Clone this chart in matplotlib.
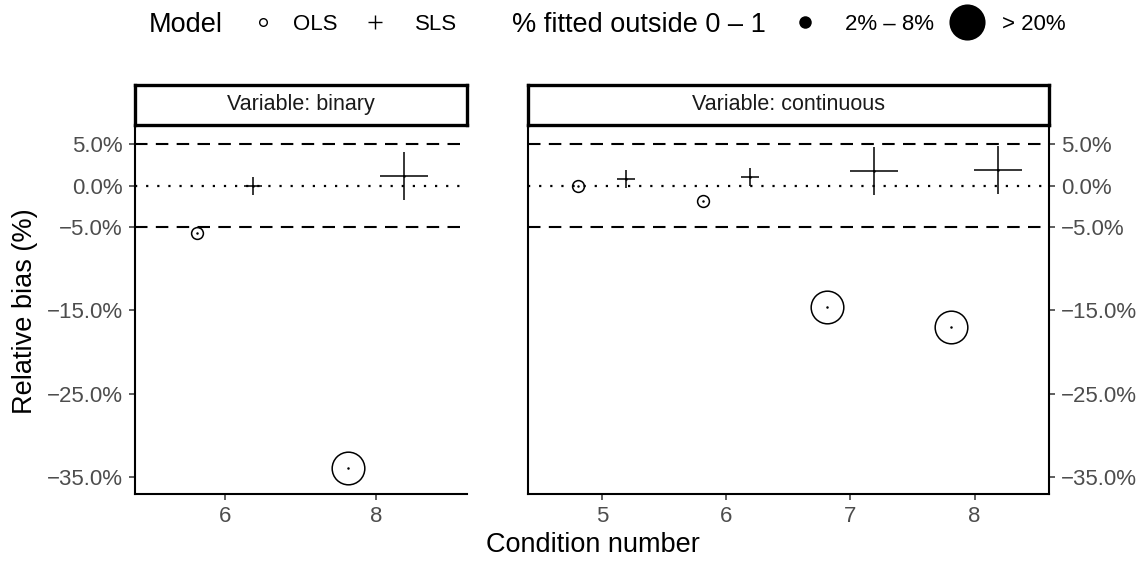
import matplotlib
matplotlib.use('Agg')
import matplotlib.pyplot as plt
from matplotlib.lines import Line2D

plt.rcParams['font.family'] = ['Liberation Sans', 'DejaVu Sans']

# ---------------- data ----------------
binary_conditions = [6, 8]
binary_ols = [-5.7, -33.9]
binary_sls = [-0.1, 1.2]
binary_outside = ['2% – 8%', '> 20%']

continuous_conditions = [5, 6, 7, 8]
continuous_ols = [0.0, -1.9, -14.6, -17.0]
continuous_sls = [0.8, 1.0, 1.8, 1.9]
continuous_outside = ['2% – 8%', '2% – 8%', '> 20%', '> 20%']

y_ticks = [5, 0, -5, -15, -25, -35]
y_tick_labels = ['5.0%', '0.0%', '\u22125.0%', '\u221215.0%', '\u221225.0%', '\u221235.0%']
binary_x_ticks = [6, 8]
continuous_x_ticks = [5, 6, 7, 8]
outside_levels = ['2% – 8%', '> 20%']

# ---------------- style ----------------
circle_ms = {'2% – 8%': 8.5, '> 20%': 23.5}
plus_ms = {'2% – 8%': 13, '> 20%': 35}
TICK_COL = '#4D4D4D'

W, H = 1142, 561
fig = plt.figure(figsize=(W / 100, H / 100), dpi=100)


def rect(x0, y0, x1, y1):
    return [x0 / W, 1 - y1 / H, (x1 - x0) / W, (y1 - y0) / H]


def panel(r, conds, ols, sls, outside, dodge, xlim, xticks, right=False):
    ax = fig.add_axes(r)
    ax.axhline(5, color='black', lw=1.5, ls=(0, (6, 4)), zorder=1)
    ax.axhline(-5, color='black', lw=1.5, ls=(0, (6, 4)), zorder=1)
    ax.axhline(0, color='black', lw=1.6, ls=(0, (1, 4)), zorder=1)
    for c, yo, ys, o in zip(conds, ols, sls, outside):
        ax.plot([c - dodge], [yo], ls='none', marker='o', ms=circle_ms[o],
                mfc='none', mec='black', mew=1.1, zorder=3)
        ax.plot([c - dodge], [yo], ls='none', marker='o', ms=1.8,
                mfc='black', mec='black', mew=0, zorder=4)
        ax.plot([c + dodge], [ys], ls='none', marker='+', ms=plus_ms[o],
                mec='black', mew=1.1, zorder=3)
        ax.plot([c + dodge], [ys], ls='none', marker='o', ms=1.8,
                mfc='black', mec='black', mew=0, zorder=4)
    ax.set_xlim(*xlim)
    ax.set_ylim(-37.04, 7.16)
    ax.set_xticks(xticks)
    ax.set_xticklabels([str(t) for t in xticks])
    ax.set_yticks(y_ticks)
    ax.set_yticklabels(y_tick_labels)
    ax.spines['top'].set_visible(False)
    for s in ax.spines.values():
        s.set_linewidth(1.5)
        s.set_color('black')
    if right:
        ax.yaxis.tick_right()
        ax.spines['right'].set_visible(True)
    else:
        ax.spines['right'].set_visible(False)
    ax.tick_params(axis='both', length=4.5, width=1.1, color='#333333',
                   labelcolor=TICK_COL, labelsize=16, pad=4)
    ax.set_facecolor('white')
    return ax


ax1 = panel(rect(134.5, 126, 466.5, 494), binary_conditions, binary_ols,
            binary_sls, binary_outside, 0.375, (4.8, 9.2), binary_x_ticks)
ax2 = panel(rect(527.5, 126, 1049, 494), continuous_conditions, continuous_ols,
            continuous_sls, continuous_outside, 0.19, (4.4, 8.6),
            continuous_x_ticks, right=True)


def strip(r, label):
    sa = fig.add_axes(r)
    sa.set_xticks([])
    sa.set_yticks([])
    for s in sa.spines.values():
        s.set_linewidth(2.4)
        s.set_color('black')
    sa.text(0.5, 0.5, label, ha='center', va='center', fontsize=15.5,
            color='#1A1A1A', transform=sa.transAxes)


strip(rect(135, 84.5, 466.5, 124.5), 'Variable: binary')
strip(rect(528, 84.5, 1049, 124.5), 'Variable: continuous')

fig.text(25 / W, 1 - 311 / H, 'Relative bias (%)', rotation=90,
         ha='center', va='center', fontsize=19.5)
fig.text(593 / W, 1 - 545 / H, 'Condition number', ha='center',
         va='center', fontsize=19.5)

# ---------------- legend ----------------
ly = 1 - 22 / H


def ltext(x, s, fs):
    fig.text(x / W, ly, s, ha='left', va='center_baseline', fontsize=fs)


def lmark(x, **kw):
    fig.add_artist(Line2D([x / W], [ly], transform=fig.transFigure,
                          ls='none', color='black', **kw))


ltext(149, 'Model', 19.5)
lmark(263, marker='o', ms=5.5, mfc='none', mec='black', mew=1.0)
ltext(293, 'OLS', 16)
lmark(375, marker='+', ms=10, mec='black', mew=1.0)
ltext(415, 'SLS', 16)
ltext(512, '% fitted outside 0 \u2013 1', 19.5)
lmark(805, marker='o', ms=9, mfc='black', mec='black', mew=0)
ltext(845, outside_levels[0], 16)
lmark(967, marker='o', ms=26, mfc='black', mec='black', mew=0)
ltext(1002, outside_levels[1], 16)

fig.savefig('out.png', dpi=100, facecolor='white')
